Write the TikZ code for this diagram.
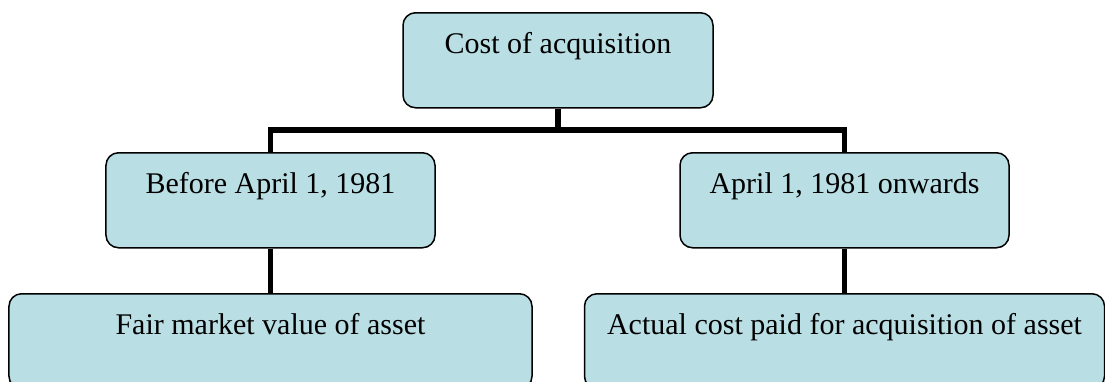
\documentclass[tikz,border=0pt]{standalone}
\usepackage{fontspec}
\setmainfont{Liberation Serif}
\usetikzlibrary{positioning}
\definecolor{boxblue}{RGB}{185,222,228}
\tikzset{font=\fontsize{12}{14}\selectfont}

\begin{document}
\begin{tikzpicture}[x=0.4pt, y=-0.4pt]
	\clip (0, 0) rectangle (1105, 381);
	\tikzstyle{box}=[draw=black, line width=0.6pt, fill=boxblue, rounded corners=5pt, anchor=north, inner sep=0pt, text height=16.4pt, text depth=21.6pt]
	\tikzstyle{conn}=[line width=2.3pt]

	\node[box, minimum width=124pt] (cost) at (558, 12) {Cost of acquisition};

	\node[box, minimum width=131.6pt] (before) at (270.5, 152) {Before April 1, 1981};
	\node[box, minimum width=131.6pt] (after) at (844.5, 152) {April 1, 1981 onwards};

	\node[box, minimum width=209.2pt] (fmv) at (270.5, 293) {Fair market value of asset};
	\node[box, minimum width=208pt] (actual) at (844.5, 293) {Actual cost paid for acquisition of asset};

	\coordinate (bar) at (558, 130);
	\draw [conn] (cost.south) to (bar);
	\draw [conn] (before.north) |- (bar) -| (after.north);
	\draw [conn] (before) to (fmv);
	\draw [conn] (after) to (actual);
\end{tikzpicture}
\end{document}
